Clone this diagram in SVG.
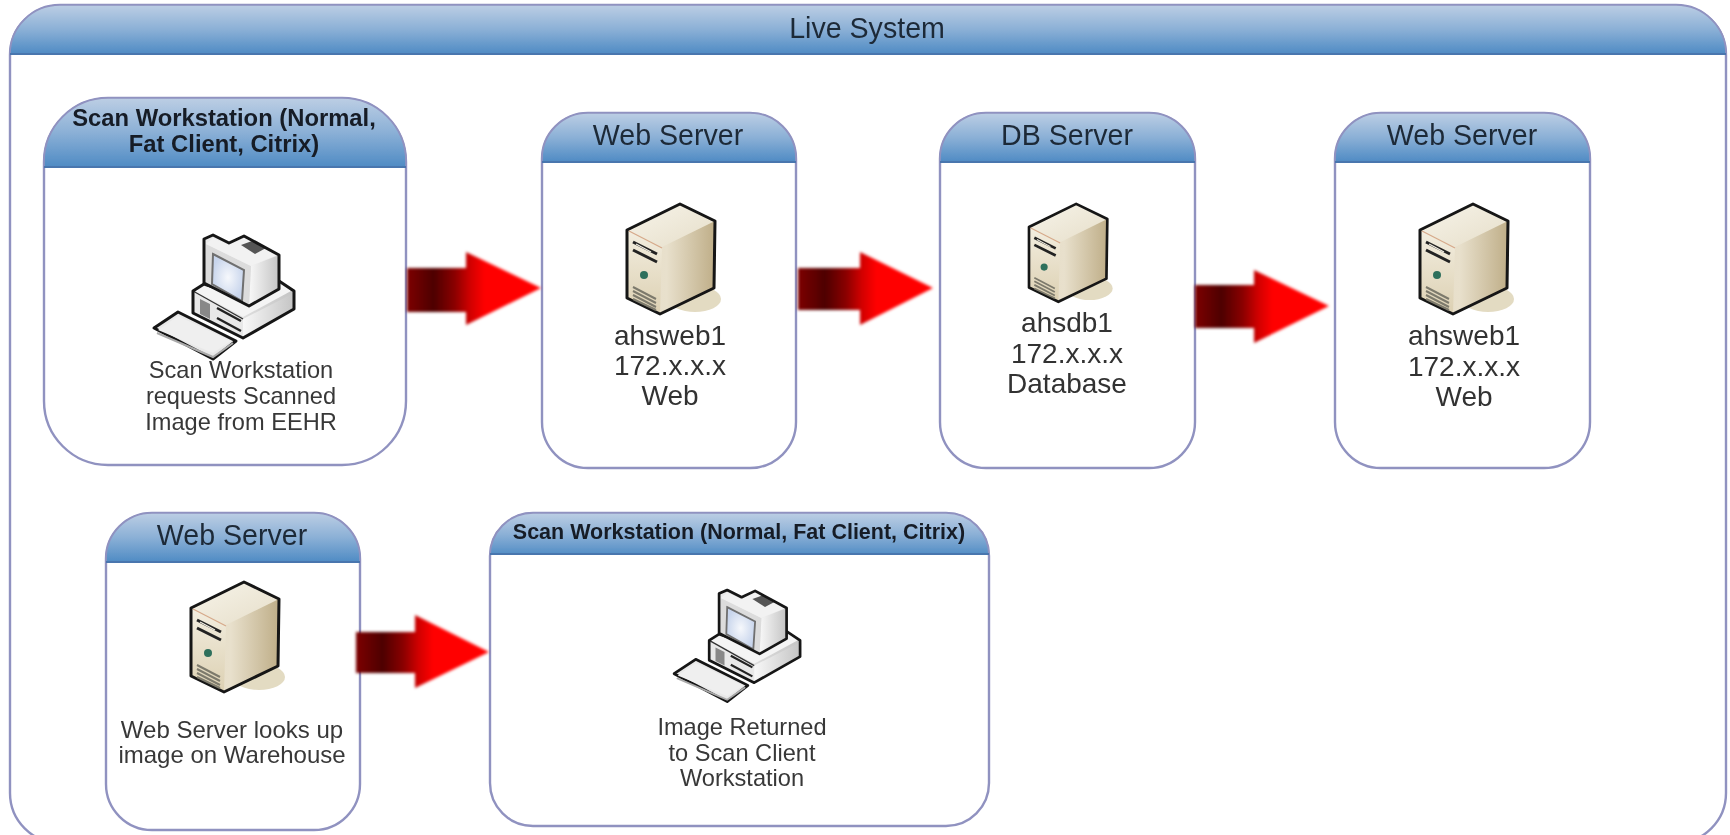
<svg xmlns="http://www.w3.org/2000/svg" xmlns:xlink="http://www.w3.org/1999/xlink" width="1730" height="835" viewBox="0 0 1730 835">
<style>
text{font-family:"Liberation Sans",Arial,sans-serif;text-anchor:middle}
.box{fill:#fff;stroke:#9092c0;stroke-width:2.4}
.hd{fill:url(#hg);stroke:#9092c0;stroke-width:1.6}
.hl{stroke:#4a76ae;stroke-width:2.2;fill:none}
.t{font-size:28.6px;fill:#1f2937}
.b{font-size:23.8px;font-weight:bold;fill:#161c26}
.b2{font-size:21.5px;font-weight:bold;fill:#161c26}
.l{font-size:28px;fill:#333}
.s{font-size:23.6px;fill:#383838}
.k{stroke:#151515;stroke-width:3;stroke-linejoin:round}
</style>
<defs>
<filter id="soft" x="-5%" y="-5%" width="110%" height="110%"><feGaussianBlur stdDeviation="0.7"/></filter>
<filter id="softA" x="-10%" y="-10%" width="120%" height="120%"><feGaussianBlur stdDeviation="1.5"/></filter>
<linearGradient id="hg" x1="0" y1="0" x2="0" y2="1"><stop offset="0" stop-color="#bccee4"/><stop offset="0.5" stop-color="#8bb0d6"/><stop offset="1" stop-color="#4f8bc4"/></linearGradient>
<linearGradient id="ag" x1="0" y1="0" x2="1" y2="0"><stop offset="0" stop-color="#7d0000"/><stop offset="0.2" stop-color="#4d0000"/><stop offset="0.36" stop-color="#8c0000"/><stop offset="0.47" stop-color="#d00000"/><stop offset="0.58" stop-color="#ff0000"/><stop offset="1" stop-color="#ff0000"/></linearGradient>
<linearGradient id="sr" x1="0" y1="0" x2="1" y2="0"><stop offset="0" stop-color="#e6dcc6"/><stop offset="0.45" stop-color="#e8e0cc"/><stop offset="1" stop-color="#bfae88"/></linearGradient>
<linearGradient id="sf" x1="0" y1="0" x2="0" y2="1"><stop offset="0" stop-color="#f3eee0"/><stop offset="1" stop-color="#dcd0b2"/></linearGradient>
<linearGradient id="st" x1="0" y1="0" x2="1" y2="1"><stop offset="0" stop-color="#f7f4ea"/><stop offset="1" stop-color="#e6dec9"/></linearGradient>
<linearGradient id="cg" x1="0" y1="0" x2="1" y2="0"><stop offset="0" stop-color="#f8f8f8"/><stop offset="1" stop-color="#c4c4c4"/></linearGradient>
<radialGradient id="sc"><stop offset="0" stop-color="#f6f8fc"/><stop offset="1" stop-color="#c8d5ec"/></radialGradient>
<g id="server">
<ellipse cx="68" cy="96" rx="26" ry="13" fill="#e3dbc2"/>
<path d="M53 1L88 18L87 85L33 111L0 95L0 27Z" fill="url(#sr)"/>
<path d="M53 1L88 18L35 44L0 27Z" fill="url(#st)"/>
<path d="M0 27L35 44L33 111L0 95Z" fill="url(#sf)"/>
<path d="M53 1L88 18L87 85L33 111L0 95L0 27Z" fill="none" class="k"/>
<path d="M2 28L35 45" stroke="#d6a98a" stroke-width="1.2" fill="none"/>
<path d="M6 39L30 51M6 47L30 59" stroke="#222" stroke-width="3" fill="none"/>
<path d="M9 41L24 49" stroke="#f3efe4" stroke-width="1.2" fill="none"/>
<circle cx="17" cy="72" r="4" fill="#2f6f5c"/>
<path d="M6 84L29 96M6 88L29 100M6 92L29 104M6 96L29 107" stroke="#7d7a6c" stroke-width="2" fill="none"/>
</g>
<g id="pc">
<path d="M-1 93L23 77L81 106L58 124Z" fill="#e8e8e8" class="k"/>
<path d="M3 95L23 81L76 106L58 118Z" fill="#efefef"/>
<path d="M2 98L58 122L78 108" fill="none" stroke="#aaa" stroke-width="2"/>
<path d="M38 56L49 49L88 62L124 46L139 56L139 74L88 103L38 78Z" fill="url(#cg)"/>
<path d="M38 56L88 84L88 103L38 78Z" fill="#e8e8e8"/>
<path d="M88 84L139 58L139 74L88 103Z" fill="url(#cg)"/>
<path d="M41 56L52 50L88 62L124 46L136 56L88 82Z" fill="#f4f4f4"/>
<path d="M38 56L88 84" fill="none" stroke="#333" stroke-width="1.4"/>
<path d="M38 56L49 49L88 62L124 46L139 56L139 74L88 103L38 78Z" fill="none" class="k"/>
<path d="M45 64L55 69L55 84L45 79Z" fill="#888"/>
<path d="M62 73L86 86M62 83L86 96" stroke="#222" stroke-width="2.4" fill="none"/>
<path d="M49 4L58 0L74 8L89 1L124 20L124 54L94 71L49 48Z" fill="#eaeaea"/>
<path d="M96 31L124 20L124 54L94 71Z" fill="url(#cg)"/>
<path d="M51 9L96 31L94 71L49 48Z" fill="#dcdcdc"/>
<path d="M58 3L74 10L89 3L122 20L96 31L51 9Z" fill="#f2f2f2"/>
<path d="M58 19L89 35L87 66L57 49Z" fill="url(#sc)" stroke="#6f6f6f" stroke-width="2"/>
<path d="M86 10L97 6L111 13L100 19Z" fill="#555"/>
<path d="M49 4L58 0L74 8L89 1L124 20L124 54L94 71L49 48Z" fill="none" class="k"/>
</g>
</defs>
<rect width="1730" height="835" fill="#fff"/>
<g filter="url(#soft)">
<g id="live-system">
<rect class="box" x="10" y="5" width="1716" height="838" rx="50" ry="50"/>
<path class="hd" d="M10 54A50 49 0 0 1 60 5H1676A50 49 0 0 1 1726 54Z"/>
<path class="hl" d="M10 54H1726"/>
<text class="t" x="867" y="38">Live System</text>
</g>
<g id="scan-workstation-1">
<rect class="box" x="44" y="98" width="362" height="367" rx="64"/>
<path class="hd" d="M44 167V162A64 64 0 0 1 108 98H342A64 64 0 0 1 406 162V167Z"/>
<path class="hl" d="M44 167H406"/>
<text class="b" x="224" y="126">Scan Workstation (Normal,</text>
<text class="b" x="224" y="152">Fat Client, Citrix)</text>
<use href="#pc" xlink:href="#pc" x="155" y="235"/>
<text class="s" x="241" y="378">Scan Workstation</text>
<text class="s" x="241" y="404">requests Scanned</text>
<text class="s" x="241" y="430">Image from EEHR</text>
</g>
<g id="web-server-1">
<rect class="box" x="542" y="113" width="254" height="355" rx="46"/>
<path class="hd" d="M542 162V159A46 46 0 0 1 588 113H750A46 46 0 0 1 796 159V162Z"/>
<path class="hl" d="M542 162H796"/>
<text class="t" x="668" y="145">Web Server</text>
<use href="#server" xlink:href="#server" x="627" y="203"/>
<text class="l" x="670" y="345">ahsweb1</text>
<text class="l" x="670" y="375">172.x.x.x</text>
<text class="l" x="670" y="405">Web</text>
</g>
<g id="db-server">
<rect class="box" x="940" y="113" width="255" height="355" rx="46"/>
<path class="hd" d="M940 162V159A46 46 0 0 1 986 113H1149A46 46 0 0 1 1195 159V162Z"/>
<path class="hl" d="M940 162H1195"/>
<text class="t" x="1067" y="145">DB Server</text>
<use href="#server" xlink:href="#server" transform="translate(1029 203) scale(0.89)"/>
<text class="l" x="1067" y="332">ahsdb1</text>
<text class="l" x="1067" y="363">172.x.x.x</text>
<text class="l" x="1067" y="393">Database</text>
</g>
<g id="web-server-2">
<rect class="box" x="1335" y="113" width="255" height="355" rx="46"/>
<path class="hd" d="M1335 162V159A46 46 0 0 1 1381 113H1544A46 46 0 0 1 1590 159V162Z"/>
<path class="hl" d="M1335 162H1590"/>
<text class="t" x="1462" y="145">Web Server</text>
<use href="#server" xlink:href="#server" x="1420" y="203"/>
<text class="l" x="1464" y="345">ahsweb1</text>
<text class="l" x="1464" y="376">172.x.x.x</text>
<text class="l" x="1464" y="406">Web</text>
</g>
<g id="web-server-3">
<rect class="box" x="106" y="513" width="254" height="317" rx="46"/>
<path class="hd" d="M106 562V559A46 46 0 0 1 152 513H314A46 46 0 0 1 360 559V562Z"/>
<path class="hl" d="M106 562H360"/>
<text class="t" x="232" y="545">Web Server</text>
<use href="#server" xlink:href="#server" x="191" y="581"/>
<text class="s" style="font-size:24px" x="232" y="738">Web Server looks up</text>
<text class="s" style="font-size:24px" x="232" y="763">image on Warehouse</text>
</g>
<g id="scan-workstation-2">
<rect class="box" x="490" y="513" width="499" height="313" rx="43"/>
<path class="hd" d="M490 554V556A43 43 0 0 1 533 513H946A43 43 0 0 1 989 556V554Z"/>
<path class="hl" d="M490 554H989"/>
<text class="b2" x="739" y="539">Scan Workstation (Normal, Fat Client, Citrix)</text>
<use href="#pc" xlink:href="#pc" transform="translate(675 590) scale(0.9)"/>
<text class="s" x="742" y="735">Image Returned</text>
<text class="s" x="742" y="761">to Scan Client</text>
<text class="s" x="742" y="786">Workstation</text>
</g>
</g>
<g id="connectors" filter="url(#softA)">
<path fill="url(#ag)" d="M407 268H466V252L541 288L466 325V312H407Z"/>
<path fill="url(#ag)" d="M798 268H860V252L933 288L860 325V310H798Z"/>
<path fill="url(#ag)" d="M1195 285H1254V270L1329 306L1254 343V328H1195Z"/>
<path fill="url(#ag)" d="M356 632H415V615L489 652L415 688V673H356Z"/>
</g>
</svg>
